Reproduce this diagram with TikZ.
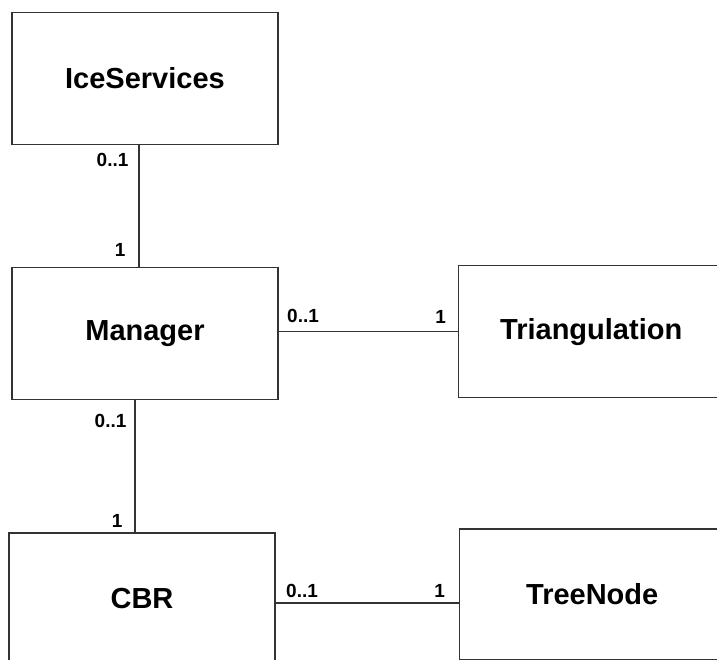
\documentclass[tikz,border=0pt]{standalone}
\usepackage{fontspec}
\setmainfont{Liberation Sans}
\usetikzlibrary{positioning}

\begin{document}
\begin{tikzpicture}
[x=1pt, y=-1pt,
classbox/.style={shape=rectangle, draw=black!80, line width=1.2pt, minimum width=266pt, minimum height=132pt, font=\bfseries\fontsize{29}{34}\selectfont},
mult/.style={inner sep=0pt, font=\bfseries\fontsize{19}{22}\selectfont},
assoc/.style={draw=black!80, line width=1.2pt}]
\useasboundingbox (0,0) rectangle (717,660);
\node[classbox] (ice) at (145,78.5) {IceServices};
\node[classbox, below=122pt of ice] (man) {Manager};
\node[classbox, right=179pt of man, yshift=2pt] (tri) {Triangulation};
\node[classbox, below=132pt of man, xshift=-3pt] (cbr) {CBR};
\node[classbox, right=183pt of cbr, yshift=4.5pt, minimum height=131pt] (tree) {TreeNode};
\draw[assoc] ([xshift=-6pt]ice.south) -- ([xshift=-6pt]man.north)
  node[mult, at start, anchor=north east, xshift=-10pt, yshift=-8pt] (ice-m) {0..1}
  node[mult, at end, anchor=south east, xshift=-13pt, yshift=10pt] (man-i) {1};
\draw[assoc] ([yshift=2pt]man.east) -- ([yshift=2pt]man.east -| tri.west)
  node[mult, at start, anchor=south west, xshift=8pt, yshift=8pt] (man-t) {0..1}
  node[mult, at end, anchor=south east, xshift=-11pt, yshift=8pt] (tri-m) {1};
\draw[assoc] ([xshift=-10pt]man.south) -- ([xshift=-7pt]cbr.north)
  node[mult, at start, anchor=north east, xshift=-8pt, yshift=-13pt] (man-c) {0..1}
  node[mult, at end, anchor=south east, xshift=-12pt, yshift=4pt] (cbr-m) {1};
\draw[assoc] ([yshift=-4pt]cbr.east) -- ([yshift=-4pt]cbr.east -| tree.west)
  node[mult, at start, anchor=south west, xshift=10pt, yshift=5pt] (cbr-t) {0..1}
  node[mult, at end, anchor=south east, xshift=-13pt, yshift=5pt] (tree-c) {1};
\end{tikzpicture}
\end{document}
